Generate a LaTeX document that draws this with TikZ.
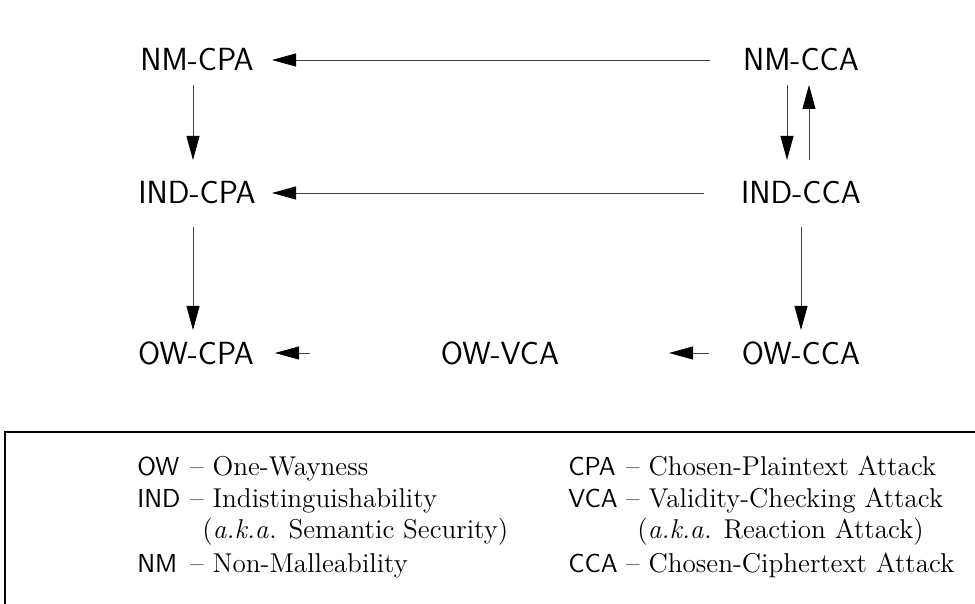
\documentclass[tikz,border=0pt]{standalone}
\usetikzlibrary{arrows.meta}
\begin{document}
\begin{tikzpicture}[x=0.5pt,y=-0.5pt,
  lbl/.style={font=\sffamily\fontsize{16}{19}\selectfont, inner sep=0pt},
  arr/.style={draw=black!75, line width=0.45pt, -{Triangle[length=12pt,width=6.5pt,color=black]}},
  abbr/.style={font=\sffamily\fontsize{13}{16}\selectfont, anchor=base west, inner sep=0pt},
  desc/.style={font=\fontsize{13.6}{16}\selectfont, anchor=base west, inner sep=0pt},
  frame/.style={draw=black, line width=0.8pt}]
\useasboundingbox (0,0) rectangle (975,604);
% nodes
\node[lbl] (nmcpa)  at (197,60)  {NM-CPA};
\node[lbl] (nmcca)  at (801,60)  {NM-CCA};
\node[lbl] (indcpa) at (197,193) {IND-CPA};
\node[lbl] (indcca) at (801,193) {IND-CCA};
\node[lbl] (owcpa)  at (196,353) {OW-CPA};
\node[lbl] (owvca)  at (500,353) {OW-VCA};
\node[lbl] (owcca)  at (801,353) {OW-CCA};
% connectors
\draw[arr] ([shift={(-91,0)}]nmcca.center) -- ([shift={(75,0)}]nmcpa.center);
\draw[arr] ([shift={(-97,0)}]indcca.center) -- ([shift={(75,0)}]indcpa.center);
\draw[arr] ([shift={(-4,25)}]nmcpa.center) -- ([shift={(-4,-33)}]indcpa.center);
\draw[arr] ([shift={(-4,34)}]indcpa.center) -- ([shift={(-3,-23)}]owcpa.center);
\draw[arr] ([shift={(-14,25)}]nmcca.center) -- ([shift={(-14,-33)}]indcca.center);
\draw[arr] ([shift={(8,-33)}]indcca.center) -- ([shift={(8,25)}]nmcca.center);
\draw[arr] ([shift={(0,34)}]indcca.center) -- ([shift={(0,-23)}]owcca.center);
\draw[arr] ([shift={(-190,0)}]owvca.center) -- ([shift={(79,0)}]owcpa.center);
\draw[arr] ([shift={(-92,0)}]owcca.center) -- ([shift={(169,0)}]owvca.center);
% legend frame
\draw[frame] (5,610) -- (5,432) -- (980,432);
% legend text
\node[abbr] (lOW)  at (137,475) {OW};
\node[desc] (dOW)  at (190,475) {-- One-Wayness};
\node[abbr] (lIND) at (137,507) {IND};
\node[desc] (dIND) at (190,507) {-- Indistinguishability};
\node[desc] (dIND2) at (202,538) {(\textit{a.k.a.} Semantic Security)};
\node[abbr] (lNM)  at (137,572) {NM};
\node[desc] (dNM)  at (190,572) {-- Non-Malleability};
\node[abbr] (lCPA) at (568,475) {CPA};
\node[desc] (dCPA) at (626,475) {-- Chosen-Plaintext Attack};
\node[abbr] (lVCA) at (568,507) {VCA};
\node[desc] (dVCA) at (626,507) {-- Validity-Checking Attack};
\node[desc] (dVCA2) at (637,538) {(\textit{a.k.a.} Reaction Attack)};
\node[abbr] (lCCA) at (568,572) {CCA};
\node[desc] (dCCA) at (626,572) {-- Chosen-Ciphertext Attack};
\end{tikzpicture}
\end{document}
